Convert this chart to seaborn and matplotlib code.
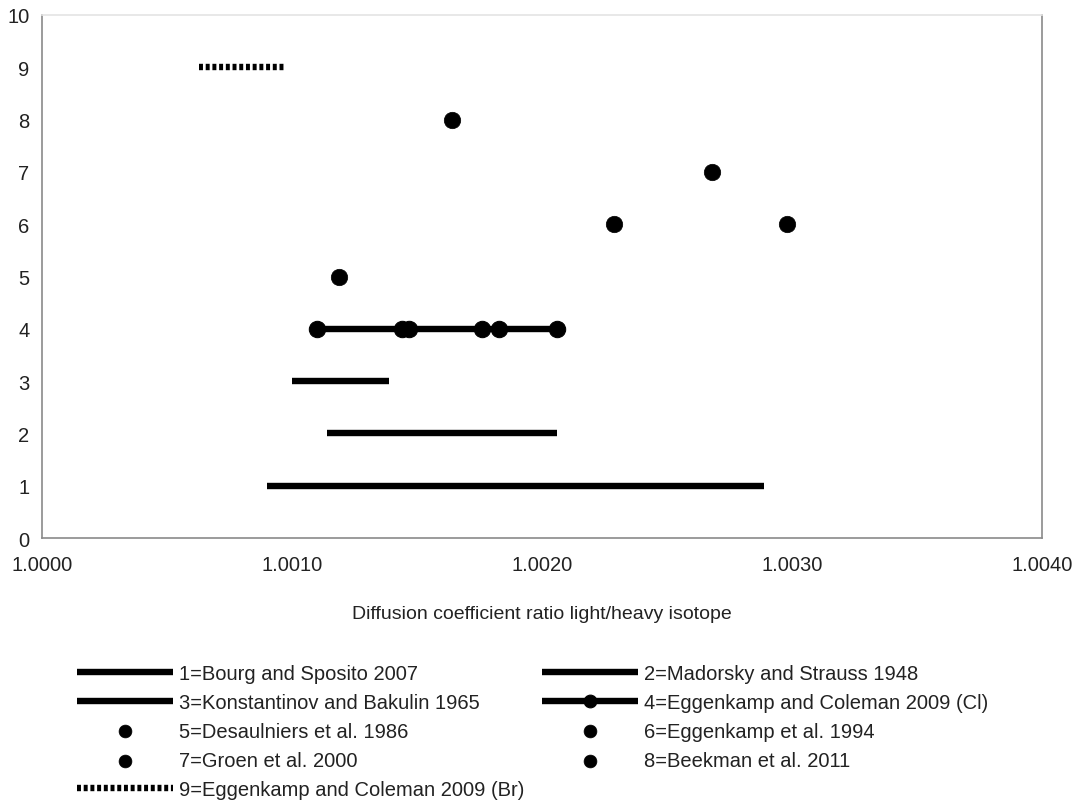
import numpy as np
import pandas as pd
import seaborn as sns
import matplotlib
matplotlib.use("Agg")
import matplotlib.pyplot as plt
from matplotlib.ticker import FormatStrFormatter

# Literature values: diffusion coefficient ratio (light/heavy isotope)
study_labels = [
    "1=Bourg and Sposito 2007",
    "2=Madorsky and Strauss 1948",
    "3=Konstantinov and Bakulin 1965",
    "4=Eggenkamp and Coleman 2009 (Cl)",
    "5=Desaulniers et al. 1986",
    "6=Eggenkamp et al. 1994",
    "7=Groen et al. 2000",
    "8=Beekman et al. 2011",
    "9=Eggenkamp and Coleman 2009 (Br)",
]

# ranges reported as intervals
range_1 = [1.00090, 1.00289]
range_2 = [1.00114, 1.00206]
range_3 = [1.00100, 1.00139]
range_9 = [1.00063, 1.00097]
# individual experiments linked by a range bar
points_4 = [1.00110, 1.00144, 1.00147, 1.00176, 1.00183, 1.00206]
# single determinations
points_5 = [1.00119]
points_6 = [1.00229, 1.00298]
points_7 = [1.00268]
points_8 = [1.00164]

x_ticks = [1.0000, 1.0010, 1.0020, 1.0030, 1.0040]
y_ticks = list(range(0, 11))

sns.set_style("white")
plt.rcParams["font.family"] = ["Liberation Sans", "DejaVu Sans"]

fig = plt.figure(figsize=(10.74, 8.04), dpi=100)
ax = fig.add_axes([0.0391, 0.3296, 0.9311, 0.6505])

def frame(xs, y):
    return pd.DataFrame({"ratio": xs, "study": [y] * len(xs)})

bar_kw = dict(color="black", linewidth=4.6, solid_capstyle="butt", estimator=None)
sns.lineplot(data=frame(range_1, 1), x="ratio", y="study", ax=ax, label=study_labels[0], **bar_kw)
sns.lineplot(data=frame(range_2, 2), x="ratio", y="study", ax=ax, label=study_labels[1], **bar_kw)
sns.lineplot(data=frame(range_3, 3), x="ratio", y="study", ax=ax, label=study_labels[2], **bar_kw)
sns.lineplot(data=frame(points_4, 4), x="ratio", y="study", ax=ax, label=study_labels[3],
             marker="o", markersize=11.8, markeredgecolor="black", markerfacecolor="black",
             **bar_kw)
pt_kw = dict(color="black", s=140, edgecolor="black", linewidth=0.5)
sns.scatterplot(data=frame(points_5, 5), x="ratio", y="study", ax=ax, label=study_labels[4], **pt_kw)
sns.scatterplot(data=frame(points_6, 6), x="ratio", y="study", ax=ax, label=study_labels[5], **pt_kw)
sns.scatterplot(data=frame(points_7, 7), x="ratio", y="study", ax=ax, label=study_labels[6], **pt_kw)
sns.scatterplot(data=frame(points_8, 8), x="ratio", y="study", ax=ax, label=study_labels[7], **pt_kw)
sns.lineplot(data=frame(range_9, 9), x="ratio", y="study", ax=ax, label=study_labels[8],
             color="black", linewidth=4.6, linestyle=(0, (0.62, 0.43)),
             dash_capstyle="butt", estimator=None)

ax.set_xlim(x_ticks[0], x_ticks[-1])
ax.set_ylim(0, 10)
ax.set_xticks(x_ticks)
ax.set_yticks(y_ticks)
ax.xaxis.set_major_formatter(FormatStrFormatter("%.4f"))
ax.set_ylabel("")
ax.set_xlabel("Diffusion coefficient ratio light/heavy isotope", fontsize=14,
              color="#222222", labelpad=22)
ax.tick_params(axis="both", which="major", length=6, width=1, color="#808080",
               labelsize=14.5, labelcolor="#222222", direction="out")
ax.tick_params(axis="x", pad=6.5)
ax.tick_params(axis="y", pad=3)

for side in ["left", "bottom", "right"]:
    ax.spines[side].set_color("#8a8a8a")
    ax.spines[side].set_linewidth(1.2)
ax.spines["top"].set_color("#e4e4e4")
ax.spines["top"].set_linewidth(1.2)

handles, labels = ax.get_legend_handles_labels()
ax.get_legend().remove()
order = [0, 2, 4, 6, 8, 1, 3, 5, 7]
fig.legend([handles[i] for i in order], [labels[i] for i in order],
           loc="upper left", bbox_to_anchor=(0.0717, 0.1734), ncol=2, frameon=False,
           fontsize=14.5, handlelength=4.78, handletextpad=0.3, labelspacing=0.5,
           columnspacing=0.85, markerscale=0.78, borderpad=0, borderaxespad=0,
           labelcolor="#222222")

fig.savefig("out.png", dpi=100, facecolor="white")
